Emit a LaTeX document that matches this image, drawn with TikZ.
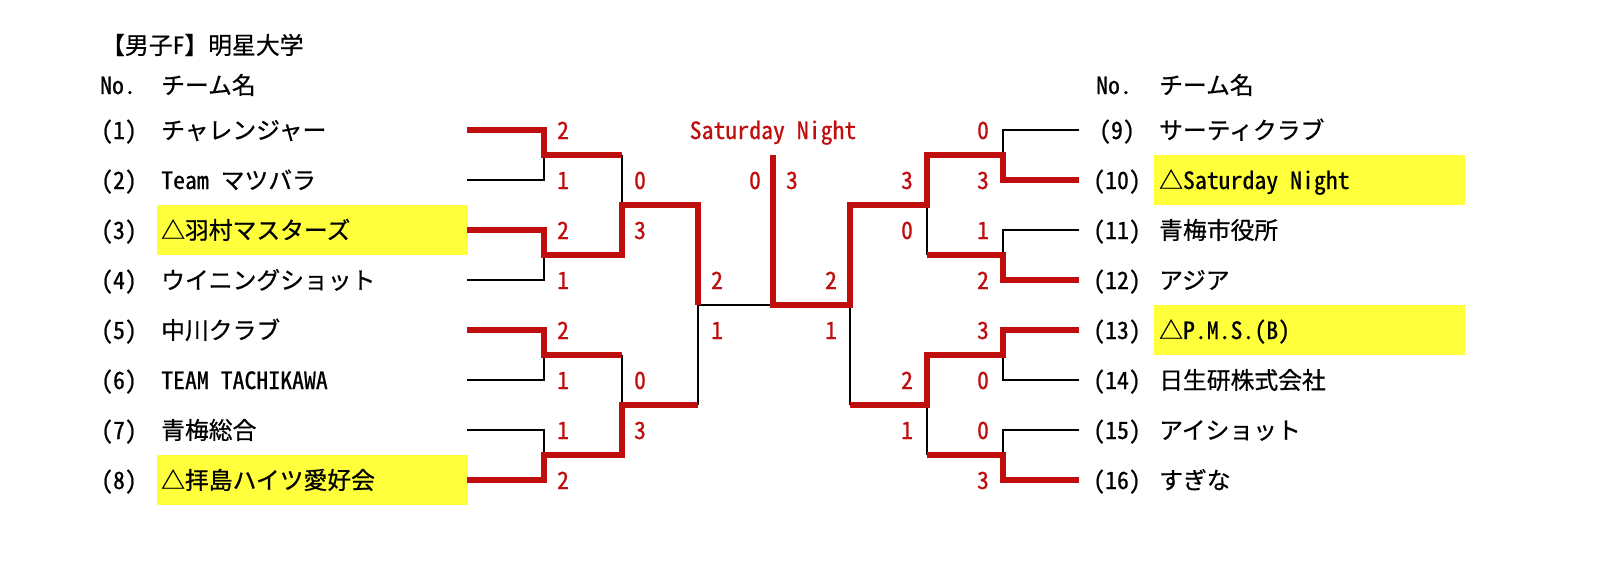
\documentclass[tikz,border=0pt]{standalone}
\usepackage{fontspec}
\newfontfamily\jp[RawFeature=+hwid,FakeBold=0.7]{Noto Sans CJK JP}
\definecolor{wred}{RGB}{192,14,14}
\definecolor{hl}{RGB}{255,255,60}
\tikzset{
  lose/.style={line width=1.7pt, black, line join=miter},
  win/.style={line width=6pt, wred, line join=miter},
  txt/.style={inner sep=0pt, font=\jp\fontsize{23.8}{28}\selectfont},
  team/.style={txt, anchor=base west},
  num/.style={txt, anchor=base},
  score/.style={txt, anchor=base, text=wred},
  hlbox/.style={fill=hl, draw=none}
}
\begin{document}
\begin{tikzpicture}[x=1pt,y=-1pt]
\useasboundingbox (0,0) rectangle (1598,586);
% ---------- coordinates ----------
\foreach \i in {1,...,8} {
  \pgfmathsetmacro\yy{130+50*(\i-1)}
  \coordinate (L\i) at (467,\yy);
  \coordinate (LA\i) at (544,\yy);
}
\foreach \i in {9,...,16} {
  \pgfmathsetmacro\yy{130+50*(\i-9)}
  \coordinate (R\i) at (1079,\yy);
  \coordinate (RA\i) at (1003,\yy);
}
\foreach \k in {1,...,4} {
  \pgfmathsetmacro\yy{155+100*(\k-1)}
  \coordinate (LM\k) at (544,\yy);
  \coordinate (LN\k) at (622,\yy);
  \coordinate (RM\k) at (1003,\yy);
  \coordinate (RN\k) at (927,\yy);
}
\coordinate (LP1) at (622,205); \coordinate (LQ1) at (698,205);
\coordinate (LP2) at (622,405); \coordinate (LQ2) at (698,405);
\coordinate (RP1) at (927,205); \coordinate (RQ1) at (850,205);
\coordinate (RP2) at (927,405); \coordinate (RQ2) at (850,405);
\coordinate (LS) at (698,305);
\coordinate (RS) at (850,305);
\coordinate (C) at (773,305);
\coordinate (CT) at (773,155);
% ---------- highlight boxes ----------
\fill[hlbox] (157,205) rectangle (468,255);
\fill[hlbox] (157,455) rectangle (468,505);
\fill[hlbox] (1154,155) rectangle (1465,205);
\fill[hlbox] (1154,305) rectangle (1465,355);
% ---------- losing lines ----------
\draw[lose] (L2) -- (LA2) -- (LM1);
\draw[lose] (L4) -- (LA4) -- (LM2);
\draw[lose] (L6) -- (LA6) -- (LM3);
\draw[lose] (L7) -- (LA7) -- (LM4);
\draw[lose] (LN1) -- (LP1);
\draw[lose] (LN3) -- (LP2);
\draw[lose] (LQ2) -- (LS);
\draw[lose] (LS) -- (C);
\draw[lose] (R9) -- (RA9) -- (RM1);
\draw[lose] (R11) -- (RA11) -- (RM2);
\draw[lose] (R14) -- (RA14) -- (RM3);
\draw[lose] (R15) -- (RA15) -- (RM4);
\draw[lose] (RN2) -- (RP1);
\draw[lose] (RN4) -- (RP2);
\draw[lose] (RQ2) -- (RS);
% ---------- winning lines ----------
\draw[win] (L1) -- (LA1) -- (LM1) -- (LN1);
\draw[win] (L3) -- (LA3) -- (LM2) -- (LN2) -- (LP1) -- (LQ1) -- (LS);
\draw[win] (L5) -- (LA5) -- (LM3) -- (LN3);
\draw[win] (L8) -- (LA8) -- (LM4) -- (LN4) -- (LP2) -- (LQ2);
\draw[win] (R10) -- (RA10) -- (RM1) -- (RN1) -- (RP1) -- (RQ1) -- (RS) -- (C) -- (CT);
\draw[win] (R12) -- (RA12) -- (RM2) -- (RN2);
\draw[win] (R13) -- (RA13) -- (RM3) -- (RN3) -- (RP2) -- (RQ2);
\draw[win] (R16) -- (RA16) -- (RM4) -- (RN4);
% ---------- headings ----------
\node[team] (title) at (101,54) {【男子F】明星大学};
\node[num] (noL) at (118,94) {No.};
\node[team] (hdL) at (161,94) {チーム名};
\node[num] (noR) at (1114,94) {No.};
\node[team] (hdR) at (1159,94) {チーム名};
\node[score] (champ) at (773,139) {Saturday Night};
% ---------- left teams ----------
\node[num] (n1) at (119,139) {(1)};
\node[num] (n2) at (119,189) {(2)};
\node[num] (n3) at (119,239) {(3)};
\node[num] (n4) at (119,289) {(4)};
\node[num] (n5) at (119,339) {(5)};
\node[num] (n6) at (119,389) {(6)};
\node[num] (n7) at (119,439) {(7)};
\node[num] (n8) at (119,489) {(8)};
\node[team] (t1) at (161,139) {チャレンジャー};
\node[team] (t2) at (161,189) {Team マツバラ};
\node[team] (t3) at (161,239) {△羽村マスターズ};
\node[team] (t4) at (161,289) {ウイニングショット};
\node[team] (t5) at (161,339) {中川クラブ};
\node[team] (t6) at (161,389) {TEAM TACHIKAWA};
\node[team] (t7) at (161,439) {青梅総合};
\node[team] (t8) at (161,489) {△拝島ハイツ愛好会};
% ---------- right teams ----------
\node[num] (n9) at (1117,139) {(9)};
\node[num] (n10) at (1117,189) {(10)};
\node[num] (n11) at (1117,239) {(11)};
\node[num] (n12) at (1117,289) {(12)};
\node[num] (n13) at (1117,339) {(13)};
\node[num] (n14) at (1117,389) {(14)};
\node[num] (n15) at (1117,439) {(15)};
\node[num] (n16) at (1117,489) {(16)};
\node[team] (t9) at (1159,139) {サーティクラブ};
\node[team] (t10) at (1159,189) {△Saturday Night};
\node[team] (t11) at (1159,239) {青梅市役所};
\node[team] (t12) at (1159,289) {アジア};
\node[team] (t13) at (1159,339) {△P.M.S.(B)};
\node[team] (t14) at (1159,389) {日生研株式会社};
\node[team] (t15) at (1159,439) {アイショット};
\node[team] (t16) at (1159,489) {すぎな};
% ---------- scores ----------
\node[score] (s1) at (563,139) {2};
\node[score] (s2) at (563,189) {1};
\node[score] (s3) at (563,239) {2};
\node[score] (s4) at (563,289) {1};
\node[score] (s5) at (563,339) {2};
\node[score] (s6) at (563,389) {1};
\node[score] (s7) at (563,439) {1};
\node[score] (s8) at (563,489) {2};
\node[score] (u1) at (640,189) {0};
\node[score] (u3) at (640,239) {3};
\node[score] (u5) at (640,389) {0};
\node[score] (u8) at (640,439) {3};
\node[score] (v3) at (717,289) {2};
\node[score] (v8) at (717,339) {1};
\node[score] (f3) at (755,189) {0};
\node[score] (f10) at (792,189) {3};
\node[score] (v10) at (831,289) {2};
\node[score] (v13) at (831,339) {1};
\node[score] (u10) at (907,189) {3};
\node[score] (u12) at (907,239) {0};
\node[score] (u13) at (907,389) {2};
\node[score] (u16) at (907,439) {1};
\node[score] (s9) at (983,139) {0};
\node[score] (s10) at (983,189) {3};
\node[score] (s11) at (983,239) {1};
\node[score] (s12) at (983,289) {2};
\node[score] (s13) at (983,339) {3};
\node[score] (s14) at (983,389) {0};
\node[score] (s15) at (983,439) {0};
\node[score] (s16) at (983,489) {3};
\end{tikzpicture}
\end{document}
